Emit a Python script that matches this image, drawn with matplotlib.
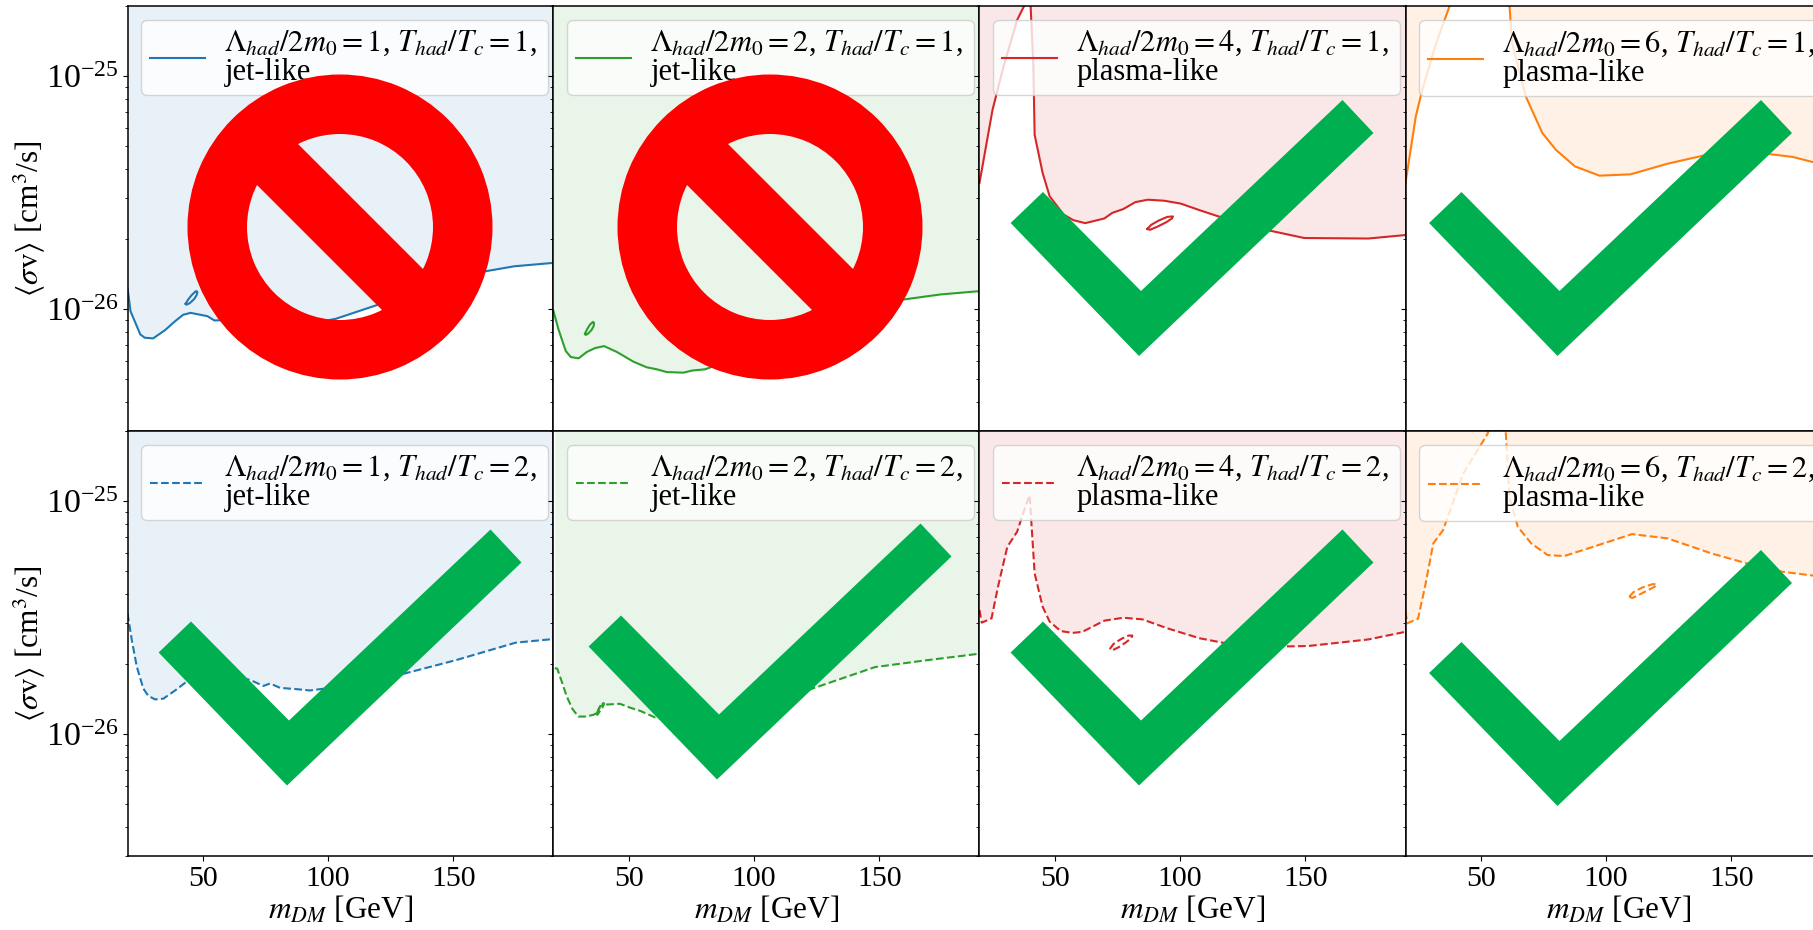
import numpy as np
import matplotlib
matplotlib.use("Agg")
import matplotlib.pyplot as plt
from matplotlib.patches import Polygon, Wedge
from matplotlib.ticker import NullFormatter

plt.rcParams["font.family"] = ["Liberation Serif", "DejaVu Serif"]
plt.rcParams["mathtext.fontset"] = "stix"
plt.rcParams["font.size"] = 20

# limits curves, sigma values are in units of 1e-26 cm^3/s
unit = 1e-26

x_blue_1 = [20.1, 21.2, 25.1, 26.9, 30.2, 35.0, 39.0, 42.2, 45.2, 51.9, 54.7, 57.5, 68.9, 80.0, 91.7, 103.1, 120.2, 140.2, 163.0, 174.4, 190.0]
y_blue_1 = [1.214, 0.98, 0.779, 0.754, 0.749, 0.813, 0.888, 0.946, 0.964, 0.933, 0.894, 0.897, 0.86, 0.83, 0.86, 0.909, 1.047, 1.255, 1.455, 1.528, 1.58]
x_blue_1_island = [43.2, 44.2, 45.8, 47.3, 47.9, 47.6, 46.6, 44.8, 43.5, 43.2]
y_blue_1_island = [1.054, 1.10, 1.155, 1.195, 1.187, 1.15, 1.105, 1.06, 1.045, 1.054]

x_green_1 = [20.0, 22.0, 24.9, 26.9, 30.0, 33.3, 36.6, 40.2, 45.3, 51.9, 57.2, 61.2, 65.2, 71.9, 75.2, 80.5, 85.2, 105.0, 125.0, 145.0, 159.7, 174.3, 190.0]
y_green_1 = [0.98, 0.818, 0.661, 0.623, 0.615, 0.655, 0.681, 0.694, 0.655, 0.595, 0.563, 0.552, 0.537, 0.534, 0.545, 0.552, 0.576, 0.694, 0.874, 1.03, 1.10, 1.156, 1.195]
x_green_1_island = [32.6, 33.4, 34.6, 35.8, 36.2, 36.0, 35.2, 33.8, 32.8, 32.6]
y_green_1_island = [0.785, 0.82, 0.86, 0.882, 0.87, 0.845, 0.815, 0.785, 0.775, 0.785]

x_red_1 = [20.0, 22.6, 25.2, 29.6, 35.0, 37.8, 39.1, 40.4, 41.5, 42.0, 45.2, 48.0, 53.5, 57.4, 62.2, 69.8, 73.0, 77.4, 82.2, 87.2, 93.7, 100.2, 107.8, 115.4, 136.1, 149.6, 175.2, 190.0]
y_red_1 = [3.48, 5.0, 7.17, 11.0, 17.4, 20.0, 23.4, 20.0, 11.0, 5.6, 3.84, 3.05, 2.55, 2.41, 2.34, 2.45, 2.59, 2.69, 2.88, 2.95, 2.92, 2.84, 2.66, 2.50, 2.17, 2.02, 2.01, 2.08]
x_red_1_island = [87, 88.5, 91.5, 95, 97.2, 96.8, 94.5, 91, 88, 87]
y_red_1_island = [2.21, 2.30, 2.40, 2.49, 2.50, 2.45, 2.36, 2.26, 2.19, 2.21]

x_orange_1 = [20.0, 24.1, 26.7, 32.2, 37.6, 49.6, 61.5, 62.6, 68.0, 74.6, 80.0, 87.6, 97.4, 109.8, 124.6, 138.8, 163.7, 174.6, 182.8, 190.0]
y_orange_1 = [3.48, 6.71, 8.74, 13.8, 20.0, 57.0, 20.0, 13.8, 8.18, 5.70, 4.83, 4.10, 3.74, 3.79, 4.21, 4.56, 4.65, 4.50, 4.27, 4.1]

x_blue_2 = [20.0, 21.7, 23.7, 26.3, 28.3, 31.0, 34.3, 39.0, 43.6, 55.6, 68.9, 74.2, 76.9, 80.9, 87.5, 92.8, 96.8, 110.0, 128.8, 151.2, 174.9, 189.9]
y_blue_2 = [3.3, 2.54, 1.95, 1.57, 1.46, 1.41, 1.42, 1.54, 1.68, 1.83, 1.71, 1.61, 1.65, 1.58, 1.56, 1.54, 1.56, 1.62, 1.80, 2.08, 2.47, 2.56]

x_green_2 = [20.5, 21.5, 23.3, 25.3, 27.6, 29.9, 32.6, 35.9, 37.2, 38.6, 41.2, 46.5, 50.5, 54.5, 60.5, 75.0, 90.0, 105.0, 123.4, 148.3, 168.0, 189.3]
y_green_2 = [1.92, 1.91, 1.68, 1.45, 1.28, 1.19, 1.19, 1.21, 1.23, 1.32, 1.34, 1.35, 1.30, 1.26, 1.18, 1.12, 1.17, 1.32, 1.57, 1.94, 2.07, 2.21]
x_green_2_island = [37.2, 37.9, 38.9, 39.9, 40.2, 39.5, 38.4, 37.5, 37.2]
y_green_2_island = [1.22, 1.27, 1.32, 1.36, 1.35, 1.30, 1.25, 1.21, 1.22]

x_red_2 = [20.0, 20.9, 24.8, 27.4, 31.1, 35.0, 38.3, 40.0, 40.9, 42.0, 45.2, 48.0, 52.4, 57.2, 61.1, 69.8, 77.4, 85.0, 94.8, 107.8, 118.7, 142.6, 151.3, 175.2, 190.0]
y_red_2 = [3.41, 3.01, 3.14, 4.30, 6.37, 7.39, 9.46, 10.6, 7.5, 4.90, 3.52, 3.04, 2.77, 2.72, 2.75, 3.07, 3.16, 3.11, 2.85, 2.58, 2.45, 2.38, 2.39, 2.55, 2.75]
x_red_2_island = [72, 73.5, 76.5, 79.5, 81, 80.5, 78.5, 75.5, 73, 72]
y_red_2_island = [2.32, 2.44, 2.56, 2.65, 2.65, 2.58, 2.48, 2.36, 2.29, 2.32]

x_orange_2 = [20.0, 20.7, 25.0, 27.8, 31.1, 35.0, 43.0, 52.8, 56.1, 60.0, 61.5, 64.8, 70.2, 76.7, 83.3, 94.1, 110.4, 124.6, 142.0, 157.2, 170.2, 182.8, 189.8]
y_orange_2 = [3.36, 2.99, 3.13, 4.30, 6.59, 7.51, 13.1, 19.5, 28.0, 19.8, 10.4, 7.76, 6.58, 5.87, 5.81, 6.33, 7.22, 6.92, 5.97, 5.37, 4.98, 4.79, 4.74]
x_orange_2_island = [109.3, 111, 114.5, 118.5, 120.2, 119.5, 117, 113.5, 110.5, 109.3]
y_orange_2_island = [3.89, 4.07, 4.26, 4.40, 4.41, 4.30, 4.16, 3.98, 3.84, 3.89]

lambdas = [1, 2, 4, 6]
kinds = ["jet-like", "jet-like", "plasma-like", "plasma-like"]
colors = ["tab:blue", "tab:green", "tab:red", "tab:orange"]

curves = [
    [(x_blue_1, y_blue_1), (x_green_1, y_green_1), (x_red_1, y_red_1), (x_orange_1, y_orange_1)],
    [(x_blue_2, y_blue_2), (x_green_2, y_green_2), (x_red_2, y_red_2), (x_orange_2, y_orange_2)],
]
islands = [
    [(x_blue_1_island, y_blue_1_island), (x_green_1_island, y_green_1_island), (x_red_1_island, y_red_1_island), None],
    [None, (x_green_2_island, y_green_2_island), (x_red_2_island, y_red_2_island), (x_orange_2_island, y_orange_2_island)],
]

fig, axes = plt.subplots(
    2, 4, figsize=(18.13, 9.30), dpi=100, sharex=True, sharey=True,
    gridspec_kw=dict(left=127.5 / 1813, right=1831.5 / 1813, top=1 - 6 / 930,
                     bottom=1 - 856 / 930, wspace=0, hspace=0),
)

for row in range(2):
    for col in range(4):
        ax = axes[row, col]
        x, y = curves[row][col]
        y = np.array(y) * unit
        ls = "-" if row == 0 else "--"
        label = (r"$\Lambda_{had}/2m_0 = %d$, $T_{had}/T_c = %d$," % (lambdas[col], row + 1)
                 + "\n" + kinds[col])
        ax.plot(x, y, color=colors[col], ls=ls, lw=1.5, label=label)
        ax.fill_between(x, y, 1e-24, color=colors[col], alpha=0.1, lw=0)
        if islands[row][col] is not None:
            xi, yi = islands[row][col]
            ax.plot(xi, np.array(yi) * unit, color=colors[col], ls=ls, lw=1.5)

        ax.set_yscale("log")
        ax.set_xlim(20, 190)
        ax.set_ylim(3e-27, 2e-25)
        ax.set_xticks([50, 100, 150])
        ax.set_yticks([1e-26, 1e-25])
        ax.yaxis.set_minor_formatter(NullFormatter())
        ax.tick_params(axis="x", which="major", labelsize=21.5)
        ax.tick_params(axis="y", which="major", labelsize=24.5, pad=3)
        for s in ax.spines.values():
            s.set_linewidth(1.1)
        if row == 0:
            ax.tick_params(axis="x", which="both", bottom=False)
        else:
            ax.set_xlabel(r"$m_{DM}$ [GeV]", fontsize=22.5, labelpad=2)
        if col == 0:
            ax.set_ylabel(r"$\langle\sigma{\rm v}\rangle$ [cm$^3$/s]", fontsize=22.5)
            ax.yaxis.set_label_coords(-0.19, 0.5)
        leg = ax.legend(loc="upper left", bbox_to_anchor=(0.0317, 0.967, 0.9553, 0), mode="expand",
                        borderaxespad=0, fontsize=22, handlelength=1.8, handletextpad=0.65,
                        borderpad=0.28, labelspacing=0.2)
        for t in leg.get_texts():
            t.set_linespacing(1.0)

# overlay stamps, in image pixels
over = fig.add_axes([0, 0, 1, 1], zorder=10)
over.set_xlim(0, 1813)
over.set_ylim(930, 0)
over.axis("off")

no_centers = [(340, 227), (770, 227)]
for cx, cy in no_centers:
    over.add_patch(Wedge((cx, cy), 152.5, 0, 360, width=59.5, color="#ff0000", lw=0))
    over.add_patch(Polygon([(cx - 50, cy - 91), (cx + 91, cy + 50), (cx + 50, cy + 91), (cx - 91, cy - 50)],
                           closed=True, color="#ff0000", lw=0))

check_shape = np.array([(1043, 192), (1141, 291), (1342.5, 100), (1373.5, 133), (1139, 356), (1010.6, 223)])
check_offsets = [(-852, 429.5), (-422, 423.5), (0, 0), (418.5, 0), (0, 429.5), (418.5, 450)]
for dx, dy in check_offsets:
    over.add_patch(Polygon(check_shape + (dx, dy), closed=True, color="#00b050", lw=0))

fig.savefig("out.png", dpi=100)
